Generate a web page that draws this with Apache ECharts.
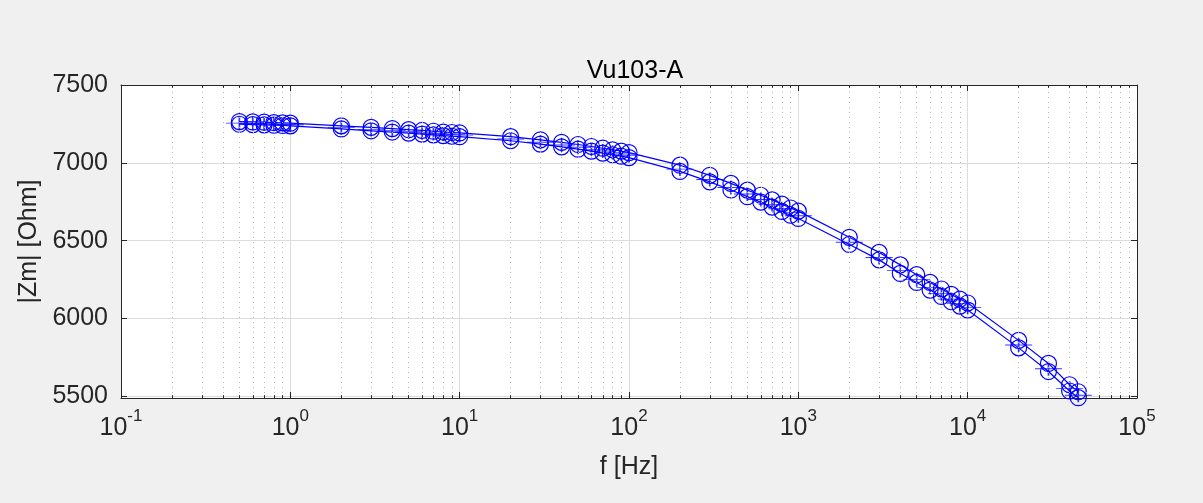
<!DOCTYPE html>
<html>
<head>
<meta charset="utf-8">
<script src="https://cdn.jsdelivr.net/npm/echarts@6/dist/echarts.min.js"></script>
<style>
  html, body { margin: 0; padding: 0; background: #f0f0f0; }
  #chart { width: 1203px; height: 503px; }
</style>
</head>
<body>
<div id="chart"></div>
<script>
// frequencies [Hz]
var freq = [0.5, 0.6, 0.7, 0.8, 0.9, 1, 2, 3, 4, 5, 6, 7, 8, 9, 10,
  20, 30, 40, 50, 60, 70, 80, 90, 100, 200, 300, 400, 500, 600, 700, 800, 900, 1000,
  2000, 3000, 4000, 5000, 6000, 7000, 8000, 9000, 10000, 20000, 30000, 40000, 45000];

// |Zm| measurement 1 (upper curve, circles)
var zmUpper = [7265, 7263, 7261, 7259, 7257, 7255, 7238, 7228, 7220, 7213, 7208, 7203, 7198, 7195, 7192,
  7168, 7148, 7132, 7118, 7105, 7094, 7084, 7075, 7066, 6985, 6920, 6868, 6825, 6792, 6762, 6735, 6710, 6690,
  6522, 6425, 6345, 6282, 6232, 6190, 6155, 6125, 6100, 5860, 5712, 5575, 5530];

// |Zm| measurement 2 (lower curve, circles)
var zmLower = [7248, 7246, 7244, 7242, 7240, 7238, 7218, 7206, 7198, 7191, 7185, 7180, 7175, 7171, 7168,
  7142, 7120, 7103, 7088, 7075, 7063, 7052, 7043, 7034, 6945, 6878, 6826, 6783, 6748, 6716, 6688, 6664, 6643,
  6476, 6377, 6290, 6232, 6183, 6142, 6108, 6080, 6055, 5812, 5660, 5535, 5492];

// '+' markers
var zmPlus = [7255, 7253, 7251, 7249, 7247, 7245, 7226, 7215, 7207, 7200, 7194, 7189, 7185, 7181, 7178,
  7153, 7132, 7115, 7100, 7087, 7076, 7066, 7057, 7048, 6960, 6893, 6842, 6800, 6765, 6733, 6705, 6680, 6660,
  6490, 6392, 6308, 6250, 6200, 6160, 6125, 6096, 6072, 5830, 5678, 5552, 5508];

var xMin = 0.1, xMax = 1e5;
var yMin = 5490, yMax = 7500;

// minor log grid positions 2..9 x 10^k
var minorX = [];
for (var d = -1; d < 5; d++) {
  for (var m = 2; m <= 9; m++) {
    minorX.push(+(m * Math.pow(10, d)).toPrecision(3));
  }
}

function pairs(xs, ys) {
  return xs.map(function (x, i) { return [x, ys[i]]; });
}

var fontFam = '"Liberation Sans", Arial, Helvetica, sans-serif';
var txt = '#262626';

var chart = echarts.init(document.getElementById('chart'), null, { renderer: 'canvas' });

var minorGrid = minorX.map(function (v) { return { xAxis: v }; });
var minorTicks = [];
minorX.forEach(function (v) {
  minorTicks.push([{ coord: [v, yMin] }, { coord: [v, yMin + 18] }]);
  minorTicks.push([{ coord: [v, yMax] }, { coord: [v, yMax - 18] }]);
});

var option = {
  backgroundColor: '#f0f0f0',
  animation: false,
  title: {
    text: 'Vu103-A',
    left: 630,
    textAlign: 'center',
    top: 54,
    textStyle: { fontFamily: fontFam, fontSize: 25, fontWeight: 'normal', color: '#000' }
  },
  grid: {
    left: 121, right: 66, top: 85, bottom: 105,
    show: true, backgroundColor: '#fff', borderWidth: 0
  },
  xAxis: [{
    type: 'log', logBase: 10, min: xMin, max: xMax,
    name: 'f [Hz]', nameLocation: 'middle', nameGap: 57,
    nameTextStyle: { fontFamily: fontFam, fontSize: 25, color: txt },
    axisLine: { show: true, lineStyle: { color: txt, width: 1 } },
    axisTick: { show: true, inside: true, length: 6, lineStyle: { color: txt } },
    splitLine: { show: true, lineStyle: { color: '#dcdcdc', width: 1 } },
    axisLabel: {
      margin: 10,
      formatter: function (v) {
        var e = Math.round(Math.log10(v));
        return '{b|10}{s|' + e + '}';
      },
      rich: {
        b: { fontFamily: fontFam, fontSize: 25, color: txt, padding: [8, 0, 0, 0] },
        s: { fontFamily: fontFam, fontSize: 17, color: txt, verticalAlign: 'top' }
      }
    }
  }, {
    type: 'log', logBase: 10, min: xMin, max: xMax, position: 'top',
    axisLine: { show: true, lineStyle: { color: txt, width: 1 } },
    axisTick: { show: true, inside: true, length: 6, lineStyle: { color: txt } },
    axisLabel: { show: false },
    splitLine: { show: false }
  }],
  yAxis: [{
    type: 'value', min: yMin, max: yMax, splitNumber: 4,
    name: '|Zm| [Ohm]', nameLocation: 'middle', nameGap: 70, nameRotate: 90,
    nameTextStyle: { fontFamily: fontFam, fontSize: 25, color: txt },
    axisLine: { show: true, lineStyle: { color: txt, width: 1 } },
    axisTick: { show: true, inside: true, length: 6, lineStyle: { color: txt } },
    splitLine: { show: true, lineStyle: { color: '#dcdcdc', width: 1 } },
    axisLabel: {
      margin: 13, fontFamily: fontFam, fontSize: 25, color: txt,
      formatter: function (v) { return v % 500 === 0 ? String(v) : ''; }
    }
  }, {
    type: 'value', min: yMin, max: yMax, splitNumber: 4, position: 'right',
    axisLine: { show: true, lineStyle: { color: txt, width: 1 } },
    axisTick: { show: true, inside: true, length: 6, lineStyle: { color: txt } },
    axisLabel: { show: false },
    splitLine: { show: false }
  }],
  series: [{
    type: 'line',
    data: pairs(freq, zmUpper),
    symbol: 'circle', symbolSize: 16, showAllSymbol: true,
    itemStyle: { color: 'none', borderColor: '#0000ff', borderWidth: 1.2 },
    lineStyle: { color: '#0000ff', width: 1.2 },
    z: 3,
    markLine: {
      silent: true, symbol: 'none', animation: false,
      label: { show: false },
      lineStyle: { color: '#b8b8b8', type: [1, 4], width: 1 },
      emphasis: { disabled: true },
      data: minorGrid
    }
  }, {
    type: 'line',
    data: pairs(freq, zmLower),
    symbol: 'circle', symbolSize: 16, showAllSymbol: true,
    itemStyle: { color: 'none', borderColor: '#0000ff', borderWidth: 1.2 },
    lineStyle: { color: '#0000ff', width: 1.2 },
    z: 3,
    markLine: {
      silent: true, symbol: 'none', animation: false,
      label: { show: false },
      lineStyle: { color: txt, type: 'solid', width: 1 },
      emphasis: { disabled: true },
      data: minorTicks
    }
  }, {
    type: 'scatter',
    data: pairs(freq, zmPlus),
    symbol: 'path://M0,7L27,7M13.5,0L13.5,14',
    symbolSize: [27, 14],
    itemStyle: { color: 'none', borderColor: '#0000ff', borderWidth: 1.2 },
    z: 3
  }]
};

chart.setOption(option);
</script>
</body>
</html>
